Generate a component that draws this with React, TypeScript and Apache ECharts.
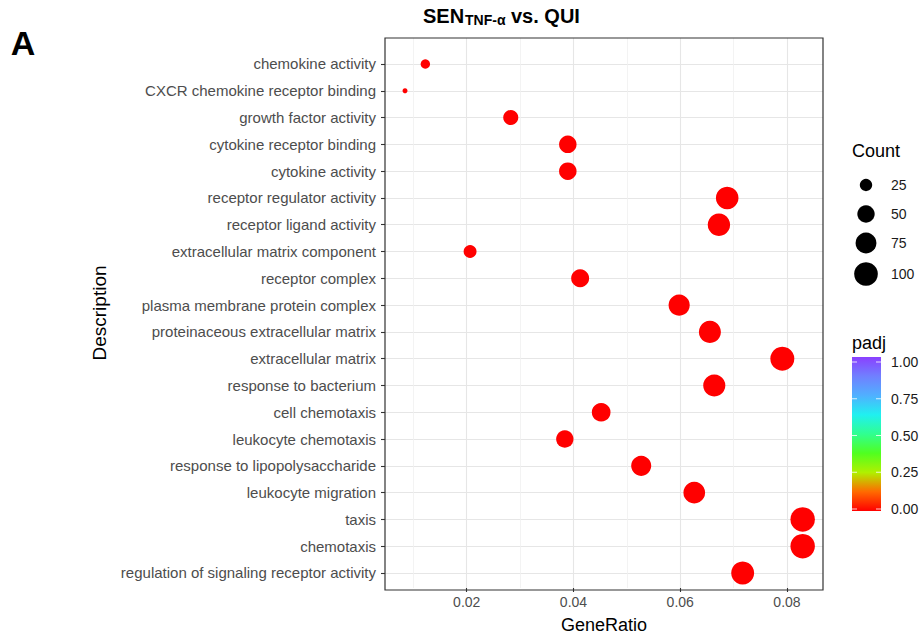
import React, { useEffect, useRef } from "react";
import * as echarts from "echarts";

const categories = [
  "chemokine activity",
  "CXCR chemokine receptor binding",
  "growth factor activity",
  "cytokine receptor binding",
  "cytokine activity",
  "receptor regulator activity",
  "receptor ligand activity",
  "extracellular matrix component",
  "receptor complex",
  "plasma membrane protein complex",
  "proteinaceous extracellular matrix",
  "extracellular matrix",
  "response to bacterium",
  "cell chemotaxis",
  "leukocyte chemotaxis",
  "response to lipopolysaccharide",
  "leukocyte migration",
  "taxis",
  "chemotaxis",
  "regulation of signaling receptor activity",
];

const geneRatio = [
  0.01225, 0.00844, 0.02825, 0.03894, 0.03894, 0.0688, 0.06725, 0.02063,
  0.04125, 0.0598, 0.06556, 0.07913, 0.06638, 0.04519, 0.03838, 0.05269,
  0.06263, 0.08294, 0.08294, 0.0717,
];

const counts = [
  16, 11, 37, 51, 51, 90, 88, 27, 54, 78, 85, 103, 86, 59, 50, 69, 82, 108,
  108, 93,
];

const padj = [
  2.1e-6, 4.5e-5, 3.3e-4, 1.2e-9, 8.7e-10, 2.4e-14, 6.1e-14, 1.5e-3, 7.2e-6,
  3.9e-8, 1.1e-13, 4.2e-17, 5.5e-12, 2.8e-10, 9.4e-9, 1.6e-11, 3.1e-13,
  2.2e-19, 2.2e-19, 7.7e-15,
];

const xTickValues = [0.02, 0.04, 0.06, 0.08];
const xMinorValues = [0.01, 0.03, 0.05, 0.07];
const countBreaks = [25, 50, 75, 100];
const padjBreaks = [0, 0.25, 0.5, 0.75, 1];
const padjColors = [
  "#ff0000",
  "#ff6a00",
  "#b0f000",
  "#50ff20",
  "#30ff90",
  "#20f0f0",
  "#50b0ff",
  "#7080ff",
  "#8a40ff",
];

const FONT = "'Liberation Sans', Arial, Helvetica, sans-serif";

export default function App() {
  const ref = useRef<HTMLDivElement>(null);

  useEffect(() => {
    if (!ref.current) return;
    const chart = echarts.init(ref.current, undefined, { renderer: "svg" });

    const cMin = Math.min(...counts);
    const cMax = Math.max(...counts);
    const sizeOf = (c: number) =>
      5 + 19.5 * Math.sqrt(Math.max(0, c - cMin) / (cMax - cMin));

    const gridLeft = 385;
    const gridTop = 38;
    const gridW = 438;
    const gridH = 552;

    const rowIdx = categories.map((_, i) => i);
    const data = categories.map((c, i) => [geneRatio[i], i, counts[i], padj[i], c]);

    // legend geometry
    const countY = [185, 214, 243, 274];
    const barX = 852;
    const barTop = 357;
    const barBottom = 511;
    const barW = 29;
    const v0 = 509;
    const v1 = 362;

    const graphics: any[] = [];
    graphics.push({
      type: "rect",
      shape: { x: gridLeft, y: gridTop, width: gridW, height: gridH },
      style: { fill: "none", stroke: "#333333", lineWidth: 1.2 },
      z: 100,
      silent: true,
    });
    graphics.push({
      type: "text",
      x: 23,
      y: 43,
      style: {
        text: "A",
        font: `bold 34px ${FONT}`,
        fill: "#000",
        textAlign: "center",
        textVerticalAlign: "middle",
      },
    });
    // title
    graphics.push({
      type: "text",
      x: 423,
      y: 16,
      style: {
        text: "SEN",
        font: `bold 20px ${FONT}`,
        fill: "#000",
        textAlign: "left",
        textVerticalAlign: "middle",
      },
    });
    graphics.push({
      type: "text",
      x: 465,
      y: 20,
      style: {
        text: "TNF-α",
        font: `bold 14px ${FONT}`,
        fill: "#000",
        textAlign: "left",
        textVerticalAlign: "middle",
      },
    });
    graphics.push({
      type: "text",
      x: 511,
      y: 16,
      style: {
        text: "vs. QUI",
        font: `bold 20px ${FONT}`,
        fill: "#000",
        textAlign: "left",
        textVerticalAlign: "middle",
      },
    });
    // Count legend
    graphics.push({
      type: "text",
      x: 852,
      y: 151,
      style: {
        text: "Count",
        font: `18px ${FONT}`,
        fill: "#000",
        textAlign: "left",
        textVerticalAlign: "middle",
      },
    });
    countBreaks.forEach((v, i) => {
      graphics.push({
        type: "circle",
        shape: { cx: 866, cy: countY[i], r: sizeOf(v) / 2 },
        style: { fill: "#000" },
      });
      graphics.push({
        type: "text",
        x: 891,
        y: countY[i],
        style: {
          text: String(v),
          font: `14px ${FONT}`,
          fill: "#1a1a1a",
          textAlign: "left",
          textVerticalAlign: "middle",
        },
      });
    });
    // padj legend
    graphics.push({
      type: "text",
      x: 852,
      y: 343,
      style: {
        text: "padj",
        font: `18px ${FONT}`,
        fill: "#000",
        textAlign: "left",
        textVerticalAlign: "middle",
      },
    });
    graphics.push({
      type: "rect",
      shape: { x: barX, y: barTop, width: barW, height: barBottom - barTop },
      style: {
        fill: new echarts.graphic.LinearGradient(
          0,
          1,
          0,
          0,
          padjColors.map((c, i) => ({ offset: i / (padjColors.length - 1), color: c }))
        ),
      },
    });
    padjBreaks.forEach((v) => {
      const y = v0 + (v1 - v0) * v;
      graphics.push({
        type: "line",
        shape: { x1: barX, y1: y, x2: barX + 5, y2: y },
        style: { stroke: "rgba(255,255,255,0.8)", lineWidth: 1 },
      });
      graphics.push({
        type: "line",
        shape: { x1: barX + barW - 5, y1: y, x2: barX + barW, y2: y },
        style: { stroke: "rgba(255,255,255,0.8)", lineWidth: 1 },
      });
      graphics.push({
        type: "text",
        x: 891,
        y,
        style: {
          text: v.toFixed(2),
          font: `14px ${FONT}`,
          fill: "#1a1a1a",
          textAlign: "left",
          textVerticalAlign: "middle",
        },
      });
    });

    chart.setOption({
      animation: false,
      backgroundColor: "#ffffff",
      textStyle: { fontFamily: FONT },
      grid: {
        left: gridLeft,
        top: gridTop,
        width: gridW,
        height: gridH,
        containLabel: false,
      },
      xAxis: [
        {
          type: "value",
          min: 0.00469,
          max: 0.08675,
          position: "bottom",
          name: "GeneRatio",
          nameLocation: "middle",
          nameGap: 28,
          nameTextStyle: { fontSize: 18, color: "#000", fontFamily: FONT },
          axisLine: { show: false, onZero: false },
          axisTick: {
            show: true,
            customValues: xTickValues,
            length: 4,
            lineStyle: { color: "#333333", width: 1.1 },
          },
          axisLabel: {
            customValues: xTickValues,
            formatter: (v: number) => v.toFixed(2),
            fontSize: 14,
            color: "#4d4d4d",
            margin: 7,
            fontFamily: FONT,
          },
          splitLine: { show: true, lineStyle: { color: "#e6e6e6", width: 1.1 } },
        },
        {
          type: "value",
          min: 0.00469,
          max: 0.08675,
          position: "top",
          axisLine: { show: false, onZero: false },
          axisTick: { show: false, customValues: xMinorValues },
          axisLabel: { show: false, customValues: xMinorValues },
          splitLine: { show: true, lineStyle: { color: "#f0f0f0", width: 0.8 } },
        },
      ],
      yAxis: {
        type: "value",
        inverse: true,
        min: -0.97,
        max: 19.56,
        name: "Description",
        nameLocation: "middle",
        nameGap: 276,
        nameTextStyle: { fontSize: 19, color: "#000", fontFamily: FONT },
        axisLine: { show: false, onZero: false },
        axisTick: {
          show: true,
          customValues: rowIdx,
          length: 4,
          lineStyle: { color: "#333333", width: 1.1 },
        },
        axisLabel: {
          customValues: rowIdx,
          formatter: (v: number) => categories[Math.round(v)] ?? "",
          fontSize: 15,
          color: "#4d4d4d",
          margin: 9,
          fontFamily: FONT,
        },
        splitLine: { show: true, lineStyle: { color: "#e6e6e6", width: 1.1 } },
      },
      visualMap: {
        type: "continuous",
        show: false,
        dimension: 3,
        min: 0,
        max: 1,
        seriesIndex: 0,
        inRange: { color: padjColors },
      },
      series: [
        {
          type: "scatter",
          xAxisIndex: 0,
          yAxisIndex: 0,
          data,
          encode: { x: 0, y: 1 },
          symbol: "circle",
          symbolSize: (v: number[]) => sizeOf(v[2]),
          itemStyle: { opacity: 1 },
          z: 5,
        },
      ],
      graphic: graphics,
    });

    return () => chart.dispose();
  }, []);

  return <div ref={ref} style={{ width: 922, height: 639, position: "absolute", left: 0, top: 0 }} />;
}
